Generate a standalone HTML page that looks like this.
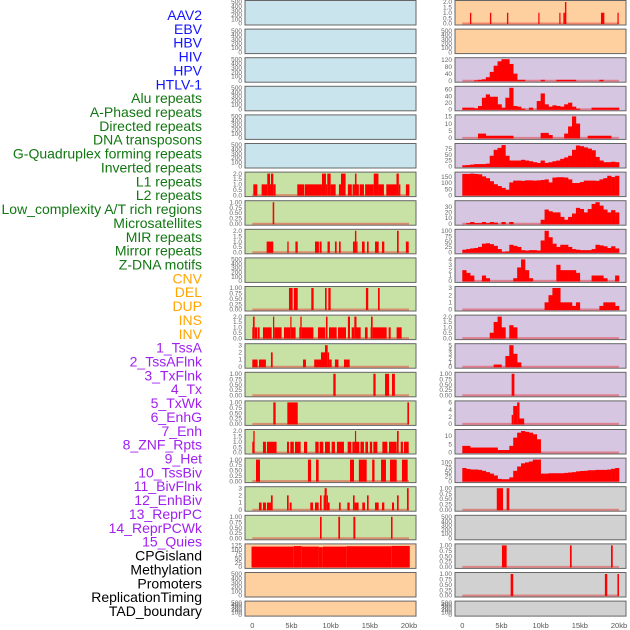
<!DOCTYPE html>
<html><head><meta charset="utf-8"><style>
html,body{margin:0;padding:0;background:#fff;}
svg{display:block;font-family:"Liberation Sans",sans-serif;}
</style></head><body>
<svg id="chart" width="630" height="630" viewBox="0 0 630 630" xmlns="http://www.w3.org/2000/svg">
<g id="labels"></g>
<g id="panels"></g>
<g id="xaxes"></g>
</svg>
<script>
const trackNames = ["AAV2","EBV","HBV","HIV","HPV","HTLV-1","Alu repeats","A-Phased repeats","Directed repeats","DNA transposons","G-Quadruplex forming repeats","Inverted repeats","L1 repeats","L2 repeats","Low_complexity A/T rich regions","Microsatellites","MIR repeats","Mirror repeats","Z-DNA motifs","CNV","DEL","DUP","INS","INV","1_TssA","2_TssAFlnk","3_TxFlnk","4_Tx","5_TxWk","6_EnhG","7_Enh","8_ZNF_Rpts","9_Het","10_TssBiv","11_BivFlnk","12_EnhBiv","13_ReprPC","14_ReprPCWk","15_Quies","CPGisland","Methylation","Promoters","ReplicationTiming","TAD_boundary"];
const trackGroups = ["v","v","v","v","v","v","r","r","r","r","r","r","r","r","r","r","r","r","r","s","s","s","s","s","c","c","c","c","c","c","c","c","c","c","c","c","c","c","c","o","o","o","o","o"];
const xTickLabels = ["0","5kb","10kb","15kb","20kb"];
const xTickValues = [0,5,10,15,20];

const T500 = ["0","100","200","300","400","500"];
const T2 = ["0.0","0.5","1.0","1.5","2.0"];
const T1 = ["0.00","0.25","0.50","0.75","1.00"];
const T3 = ["0","1","2","3"];

const leftBg = ["b","b","b","b","b","b","g","g","g","g","g","g","g","g","g","g","g","g","g","o","o","o"];
const leftTicks = [T500,T500,T500,T500,T500,T500,T2,T1,T2,T500,T1,T2,T3,T1,T1,T2,T1,T3,T1,["0","25","50","75","100","125"],T500,T500];
const leftSegs = [[],[],[],[],[],[],
 [[0.13,0.64,1],[1.19,1.91,1],[1.91,2.26,2],[2.26,2.38,1],[2.38,2.68,2],[2.68,2.98,1],[5.74,6.6,1],[6.68,8.89,1],[8.89,9.4,2],[9.4,9.57,1],[9.57,10.0,2],[10.0,10.64,1],[11.06,11.32,1],[11.32,11.91,2],[12.2,12.7,1],[12.8,13.1,1],[13.1,13.3,2],[13.3,13.6,1],[13.7,14.25,1],[14.4,15.5,1],[15.5,16.1,2],[16.1,16.8,1],[17.1,18.4,1],[18.4,18.7,2],[18.7,18.9,1],[19.6,20.05,1]],
 [[2.6,2.8,1]],
 [[1.83,2.68,1],[4.47,4.64,1],[5.5,5.8,1],[8.0,8.5,1],[8.6,8.85,1],[9.6,9.9,1],[10.55,10.77,1],[11.06,11.28,1],[12.85,13.1,1],[13.1,13.28,2],[13.28,13.36,1],[14.0,14.34,1],[14.64,14.85,1],[15.66,16.13,1],[16.55,16.85,1],[18.47,18.68,2],[19.6,19.96,1]],
 [],
 [[4.68,5.15,1],[5.3,5.8,1],[7.53,7.83,1],[9.28,9.49,1],[9.7,10.0,1],[14.5,14.8,1],[16.04,16.26,1]],
 [[0,0.08,1],[0.08,0.3,2],[0.3,0.6,1],[0.68,0.94,1],[1.36,2.47,1],[2.64,2.8,2],[2.8,3.74,1],[4.04,4.85,1],[4.85,5.0,2],[5.0,5.53,1],[6.0,6.13,1],[6.13,6.3,2],[6.3,7.8,1],[8.38,9.32,1],[9.4,9.6,2],[9.79,10.77,1],[10.94,11.96,1],[12.2,12.47,2],[12.68,13.02,1],[13.02,13.3,2],[13.3,13.83,1],[14.38,14.72,1],[15.1,15.15,1],[15.15,15.36,2],[15.36,17.15,1],[17.4,17.66,1],[18.42,19.06,1]],
 [[0,0.68,1],[0.85,1.74,1],[2.38,2.6,2],[6.47,6.85,1],[7.9,8.77,1],[8.77,9.28,2],[9.28,9.62,3],[9.62,9.8,2],[9.8,10.13,1],[10.55,11.0,1],[11.7,12.43,1]],
 [[10.34,10.64,1],[15.45,15.74,1],[16.94,17.45,1],[17.83,18.2,1]],
 [[2.68,2.98,1],[4.47,5.8,1],[19.79,20.0,1]],
 [[0,0.13,1],[0.13,0.3,2],[1.36,1.74,1],[1.87,3.1,1],[4.43,4.68,1],[4.85,5.3,1],[5.45,6.17,1],[6.6,7.0,1],[8.04,8.47,1],[8.6,9.06,1],[9.28,9.9,1],[10.13,10.55,1],[10.8,11.7,1],[12.17,12.64,1],[12.77,13.1,1],[13.1,13.23,2],[13.23,13.66,1],[13.8,14.25,1],[14.43,14.77,1],[15.0,15.3,1],[15.45,15.96,1],[16.6,17.23,1],[17.45,18.43,1],[18.47,18.68,2],[18.94,19.23,1],[19.36,19.96,1]],
 [[0.47,0.98,1],[7.1,7.5,1],[8.13,8.47,1],[12.47,12.98,1],[13.6,14.6,1],[15.3,15.6,1],[16.43,17.06,1],[17.57,18.43,1],[19.1,19.83,1]],
 [[0.85,1.19,1],[1.36,1.74,1],[1.87,2.38,1],[2.38,2.6,2],[4.43,4.64,2],[4.77,5.02,1],[7.4,7.75,1],[8.0,8.47,1],[8.64,8.85,2],[9.1,9.23,2],[9.23,9.5,3],[9.5,9.62,2],[9.62,9.87,1],[11.06,11.28,1],[12.13,12.43,1],[12.85,13.06,2],[13.06,13.57,1],[14.04,14.38,1],[14.64,14.85,2],[15.66,16.13,1],[16.55,16.85,1],[17.83,18.09,1],[18.47,18.68,2],[19.74,19.96,3]],
 [[8.64,8.85,1],[10.98,11.2,1],[12.9,13.15,1],[17.7,17.9,1]],
 [[-0.1,5.3,118],[5.3,6.3,121],[6.3,8.5,118],[8.5,9.0,115],[9.0,12.0,118],[12.0,17.8,120],[17.8,20.1,122]],
 [],[]];

const rightBg = ["o","o","p","p","p","p","p","p","p","p","p","p","p","p","p","p","p","y","y","y","y","y"];
const rightTicks = [T2,T500,["0","40","80","120"],["0","20","40","60"],["0","5","10","15"],["0","25","50","75"],["0","50","100","150"],["0","10","20","30"],["0","25","50","75","100"],["0","1","2","3","4"],T3,T2,["0","1","2","3","4","5"],T1,["0","2","4","6"],["0","5","10"],["0","25","50","75","100"],T1,T500,T1,T1,T500];
const rightSegs = [
 [[0.98,1.15,1],[3.53,3.7,1],[5.7,5.87,1],[9.7,9.83,1],[12.38,12.5,1],[12.9,13.1,1],[13.1,13.28,2],[17.7,18.13,1],[19.8,19.96,1]],
 [],[],[],[],[],[],[],[],[],[],[],[],
 [[6.3,6.65,1]],
 [[6.3,6.5,2.5],[6.5,7.0,5],[7.0,7.3,6],[7.3,7.9,1.5]],
 [],[],
 [[4.4,5.2,1],[5.66,6.0,1]],
 [],
 [[5.06,5.66,1],[13.74,13.96,1],[18.98,19.2,1]],
 [[6.17,6.5,1],[18.2,18.5,1],[19.8,20.0,1]],
 []];
const Z20 = [0,0,0,0,0,0,0,0,0,0,0,0,0,0,0,0,0,0,0,0];
const rightBins = [null,null,
 [0,0,0,2,5,8,20,50,85,110,122,122,95,40,5,5,0,0,0,0,5,0,0,0,5,5,5,5,5,0,0,0,0,0,0,5,0,0,0,0],
 [5,5,5,3,10,35,45,38,38,15,5,35,65,10,8,2,0,5,0,25,48,15,8,12,10,8,15,20,8,2,0,0,0,5,5,5,5,5,5,5],
 [0,0,0,0,3,3,1.5,1.5,1.5,1.5,1.5,1.5,1.5,0,0,0,0,0,0,0,3.5,3.5,2,0,0,0,3,8,15,10,0,0,1.5,1.5,1.5,1.5,1.5,1.5,0,0],
 [5,6,8,10,10,10,12,45,70,78,90,45,25,25,25,28,25,22,18,15,25,15,18,22,25,32,38,45,70,88,85,80,75,68,40,25,18,18,20,18],
 [175,175,178,175,172,155,140,115,90,75,60,45,105,120,120,118,122,122,120,122,125,130,105,145,148,148,145,130,100,100,108,120,120,120,118,130,140,160,150,160],
 [0,1,3,1,1,3,1,3,2,0,3,0,3,0,0,0,0,0,0,0,7,25,22,20,20,12,7,12,18,28,26,20,26,35,38,32,25,20,24,20],
 [12,15,18,20,25,40,42,38,30,15,2,4,35,30,25,10,8,10,10,8,55,100,70,40,25,35,35,25,15,12,10,10,10,15,35,32,28,20,28,18],
 [2,1.5,1,0,0,1,0.5,0,0,0,0,0,0,0.5,2.5,4,2,0.5,0,0,0,0,0,0,3,2,2,2,2,1.5,0,0,0,1,1,1,0.5,0,0,1],
 Z20.concat([0,1,2,3,3,1,1,1,0.5,1,0,0,0,0,0,0.5,1,1,1,0.5]),
 [0,0,0,0,0,0,0,0.5,1.5,2,1,0,1.2,1,0,0,0,0,0,0].concat(Z20),
 [0,0,0,0,0,0,0,0,0.5,0.5,0,2.5,5,3,1,0,0,0,0,0].concat(Z20),
 null,null,
 [4,4,3,3,3,3,3,3,3,1.5,1.5,1.5,4,9,12,13,12.5,12,11,8].concat(Z20),
 [70,65,62,62,60,55,48,40,30,12,10,10,20,55,78,95,100,105,115,115,40,40,42,42,42,42,44,46,48,52,54,55,58,58,60,60,60,62,66,70],
 null,null,null,null,null];

const NS = "http://www.w3.org/2000/svg";
function mk(tag, attrs, parent){const e=document.createElementNS(NS,tag);for(const k in attrs)e.setAttribute(k,attrs[k]);parent.appendChild(e);return e;}
const bgColors = {b:"#c9e4ec",g:"#c8e2a6",o:"#fecf9f",p:"#d6c6e2",y:"#d1d1d1"};
const groupColors = {v:"#1414ff",r:"#117711",s:"#ffa500",c:"#a020f0",o:"#000000"};

const labelsG = document.getElementById("labels");
trackNames.forEach((n,i)=>{
  const t = mk("text",{x:202,y:15+i*13.86+5,"text-anchor":"end","font-size":"14",fill:groupColors[trackGroups[i]]},labelsG);
  
  
  t.textContent = n;
});

const panelsG = document.getElementById("panels");
const colX = [245,455], pw = 171;
const dataX0 = [252.3,462.3], pxPerKb = (409-252.3)/20;
function rowTop(i){return i*28.6+0.5;}
function rowH(i){return i===21?15:24.5;}
function xScale(col,kb){return dataX0[col]+kb*pxPerKb;}

function drawPanel(col,i,bg,ticks,segs,bins){
  const x=colX[col], y=rowTop(i), h=rowH(i);
  const g = mk("g",{},panelsG);
  
  
  const r = mk("rect",{x:x,y:y,width:pw,height:h,fill:bgColors[bg],stroke:"#666","stroke-width":"1"},g);
  
  
  const tickVals = ticks.map(Number);
  let ymax = tickVals[tickVals.length-1];
  segs.forEach(s=>{if(s[2]>ymax)ymax=s[2];});
  if(bins) bins.forEach(v=>{if(v>ymax)ymax=v;});
  const y0 = y+h-1.5, y1 = y+1.5;
  const ys = v=> y0-(v/ymax)*(y0-y1);
  if(segs.length || bins){
    const bl = mk("line",{x1:xScale(col,0),x2:xScale(col,20),y1:y0,y2:y0,stroke:"rgba(230,40,40,0.45)","stroke-width":"2"},g);
    
    
  }
  segs.forEach(s=>{
    const xa=Math.max(x+0.5,xScale(col,s[0])), xb=Math.min(x+pw-0.5,xScale(col,s[1]));
    const b = mk("rect",{x:xa,y:ys(s[2]),width:Math.max(1.2,xb-xa),height:y0-ys(s[2])+0.5,fill:"#ff0000"},g);
    
    
  });
  if(bins){
    bins.forEach((v,k)=>{
      if(v<=0) return;
      const xa=xScale(col,k*0.5), xb=xScale(col,k*0.5+0.5);
      const b = mk("rect",{x:xa,y:ys(v),width:xb-xa+0.3,height:y0-ys(v)+0.5,fill:"#ff0000"},g);
      
      
    });
  }
  ticks.forEach((lab,k)=>{
    const t = mk("text",{x:x-3,y:ys(tickVals[k])+2.2,"text-anchor":"end","font-size":"6.5",fill:"#666"},g);
    
    
    t.textContent = lab;
  });
}
for(let i=0;i<22;i++){
  drawPanel(0,i,leftBg[i],leftTicks[i],leftSegs[i],null);
  drawPanel(1,i,rightBg[i],rightTicks[i],rightSegs[i],rightBins[i]);
}
const xaxG = document.getElementById("xaxes");
[0,1].forEach(col=>{
  xTickValues.forEach((v,k)=>{
    const t = mk("text",{x:xScale(col,v),y:628,"text-anchor":"middle","font-size":"7.5",fill:"#555"},xaxG);
    
    
    t.textContent = xTickLabels[k];
  });
});
</script>
</body></html>
